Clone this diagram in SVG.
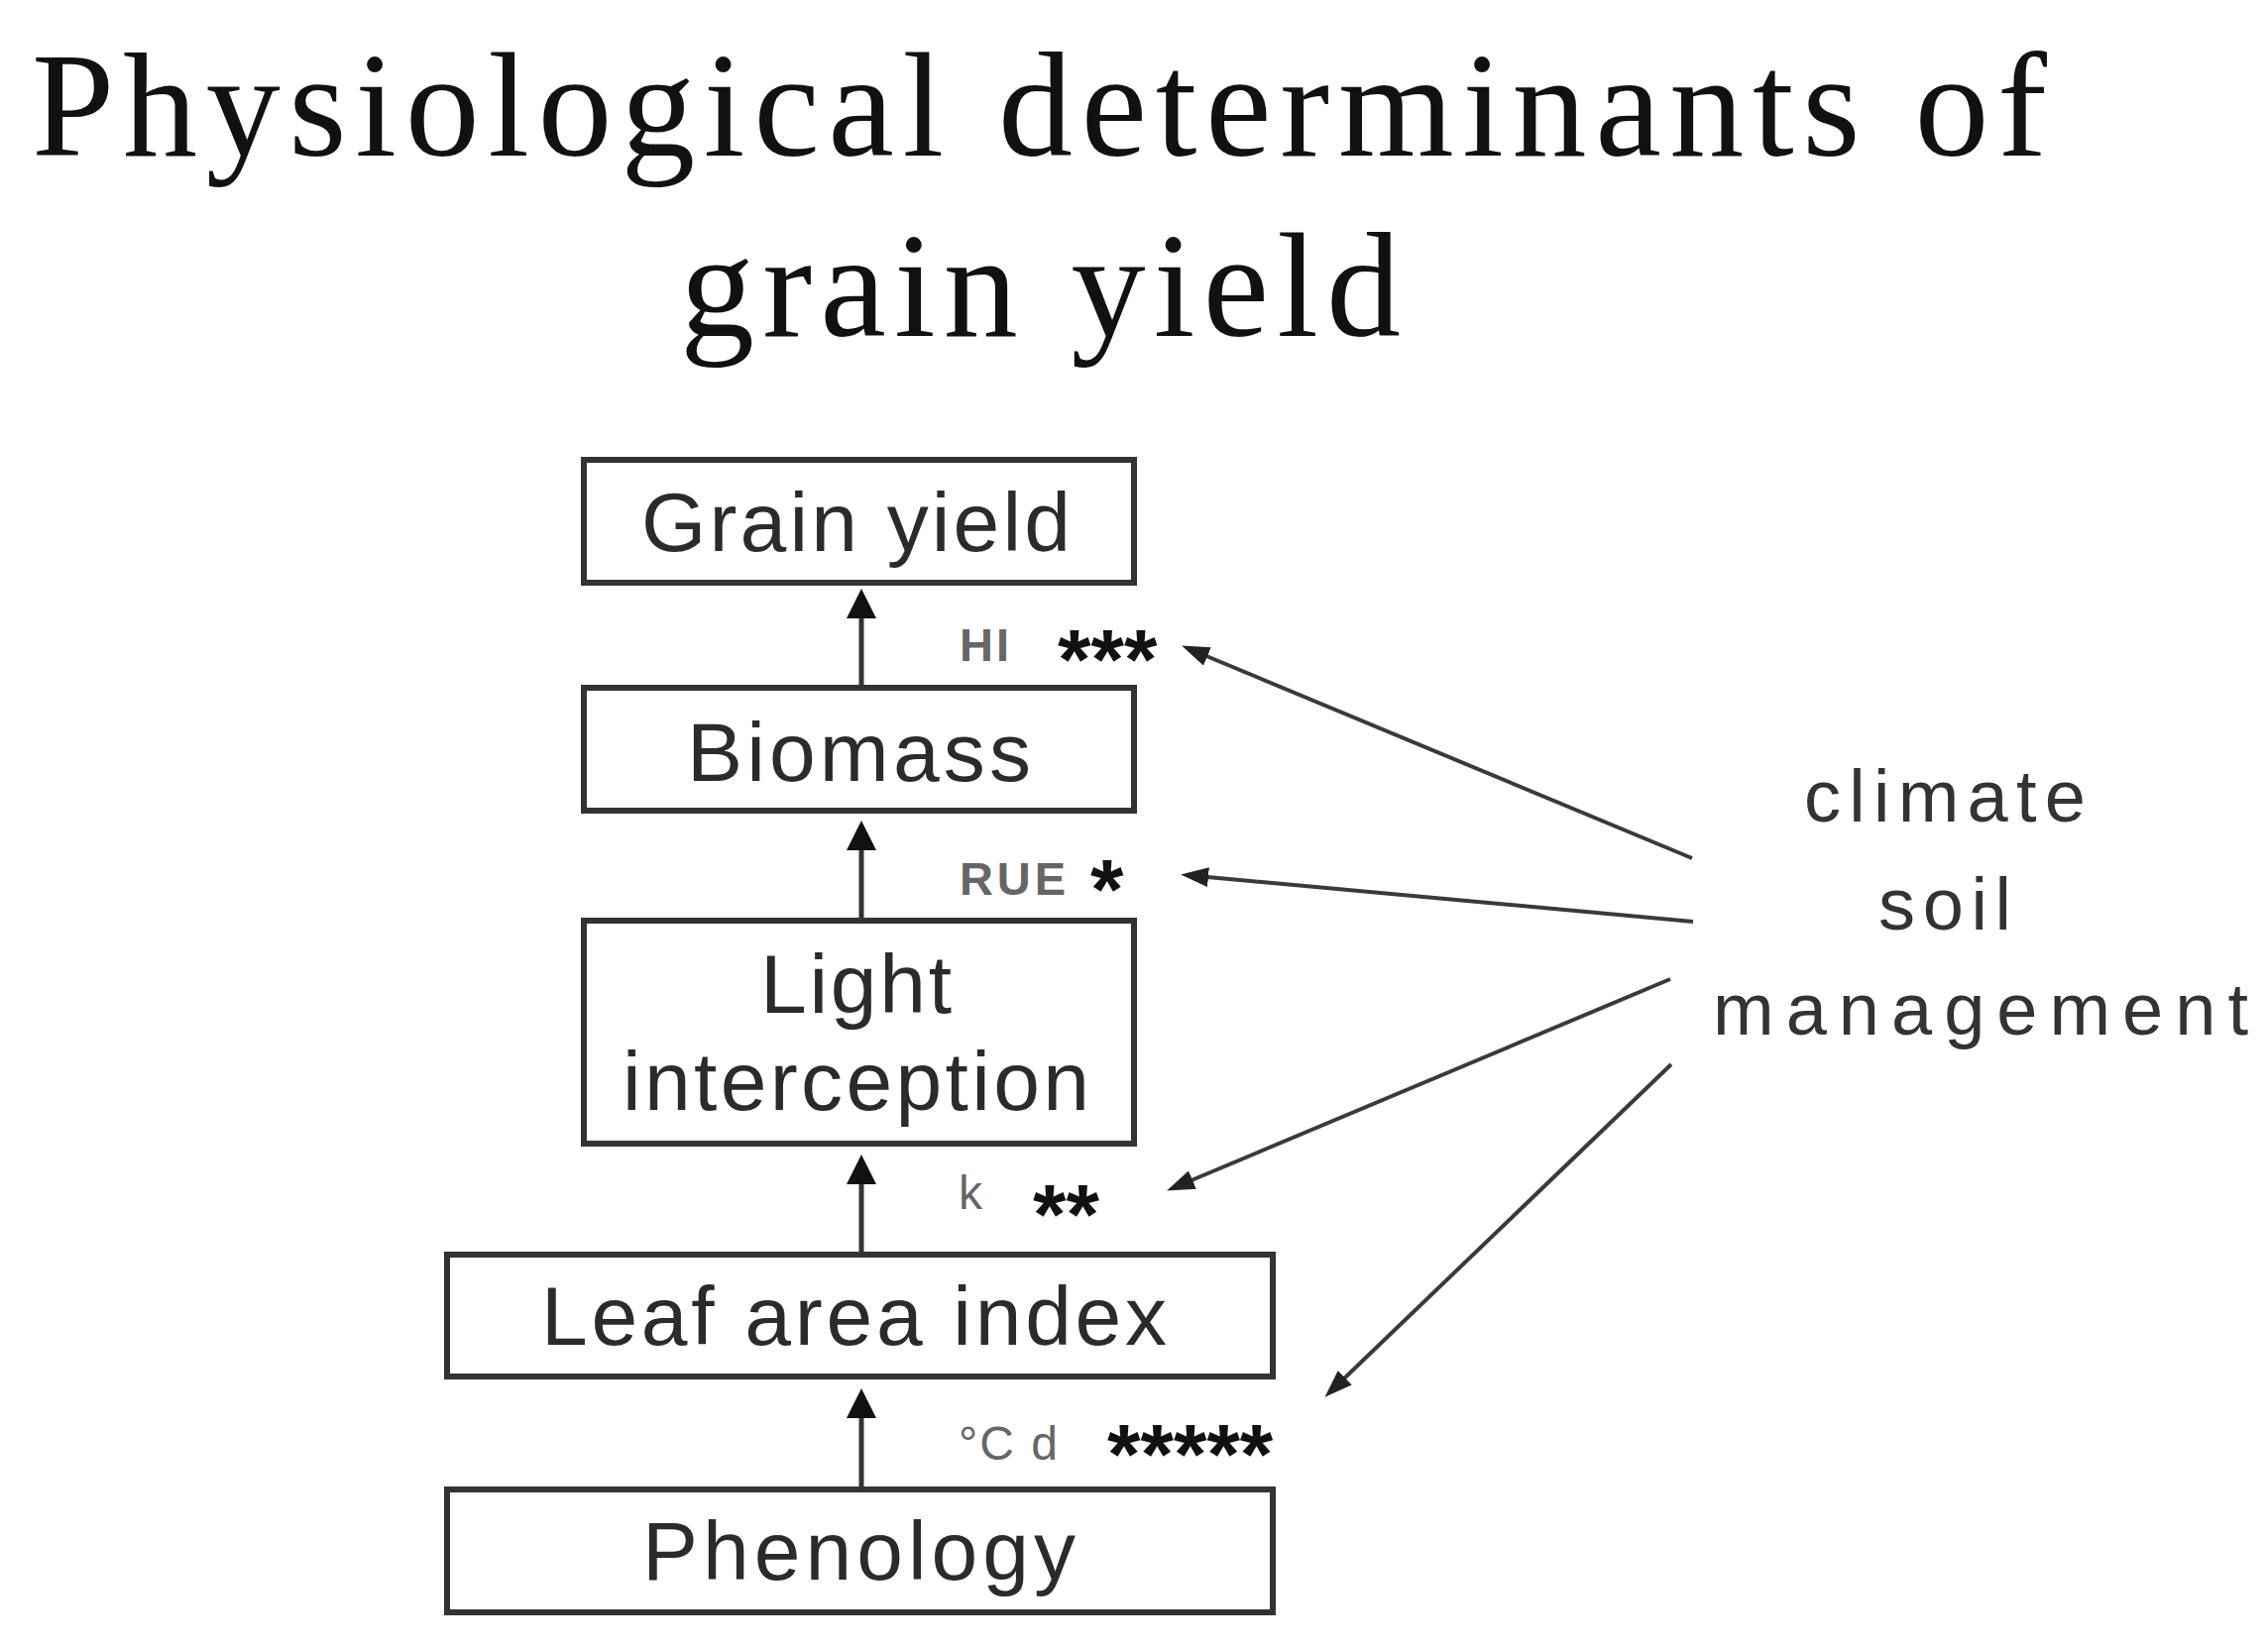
<svg xmlns="http://www.w3.org/2000/svg" width="2288" height="1666" viewBox="0 0 2288 1666">
<style>
.title{font-family:"Liberation Serif","Times New Roman",serif;font-size:150px;fill:#111}
.box{fill:#fff;stroke:#333;stroke-width:6}
.lbl{font-family:"Liberation Sans",Arial,sans-serif;font-size:84px;fill:#2b2b2b}
.side{font-family:"Liberation Sans",Arial,sans-serif;font-size:74px;fill:#333}
.sm{font-family:"Liberation Sans",Arial,sans-serif;font-size:47px;fill:#666;font-weight:bold}
.smt{font-family:"Liberation Sans",Arial,sans-serif;font-size:48px;fill:#666}
.ast{font-family:"Liberation Sans",Arial,sans-serif;font-size:86px;font-weight:bold;fill:#111}
.up{stroke:#333;stroke-width:5;fill:none}
.diag{stroke:#3a3a3a;stroke-width:4;fill:none}
</style>
<defs>
<marker id="big" markerUnits="userSpaceOnUse" viewBox="0 0 30 30" markerWidth="30" markerHeight="30" refX="1" refY="15" orient="auto">
<path d="M0,0 L30,15 L0,30 z" fill="#111"/>
</marker>
<marker id="small" markerUnits="userSpaceOnUse" viewBox="0 0 28 20" markerWidth="28" markerHeight="20" refX="1" refY="10" orient="auto">
<path d="M0,0 L28,10 L0,20 z" fill="#222"/>
</marker>
</defs>
<rect width="2288" height="1666" fill="#fff"/>
<g id="title">
<text class="title" x="32" y="157" textLength="2033" lengthAdjust="spacing">Physiological determinants of</text>
<text class="title" x="686" y="339" textLength="727" lengthAdjust="spacing">grain yield</text>
</g>
<g id="grain-yield">
<rect class="box" x="589" y="464" width="555" height="124"/>
<text class="lbl" x="647" y="556" textLength="433" lengthAdjust="spacing">Grain yield</text>
</g>
<g id="biomass">
<rect class="box" x="589" y="694" width="555" height="124"/>
<text class="lbl" x="693" y="788" textLength="347" lengthAdjust="spacing">Biomass</text>
</g>
<g id="light-interception">
<rect class="box" x="589" y="929" width="555" height="225"/>
<text class="lbl" x="767" y="1022" textLength="193" lengthAdjust="spacing">Light</text>
<text class="lbl" x="628" y="1120" textLength="471" lengthAdjust="spacing">interception</text>
</g>
<g id="leaf-area-index">
<rect class="box" x="451" y="1266" width="833" height="123"/>
<text class="lbl" x="546" y="1357" textLength="631" lengthAdjust="spacing">Leaf area index</text>
</g>
<g id="phenology">
<rect class="box" x="451" y="1503" width="833" height="124"/>
<text class="lbl" x="648" y="1594" textLength="437" lengthAdjust="spacing">Phenology</text>
</g>
<g id="factors">
<text class="side" x="1820" y="829" textLength="284" lengthAdjust="spacing">climate</text>
<text class="side" x="1895" y="938" textLength="134" lengthAdjust="spacing">soil</text>
<text class="side" x="1728" y="1044" textLength="540" lengthAdjust="spacing">management</text>
</g>
<g id="labels">
<text class="sm" x="968" y="667" textLength="50" lengthAdjust="spacing">HI</text>
<text class="ast" x="1067" y="695">***</text>
<text class="sm" x="968" y="903" textLength="107" lengthAdjust="spacing">RUE</text>
<text class="ast" x="1100" y="927">*</text>
<text class="smt" x="967" y="1220" fill="#888">k</text>
<text class="ast" x="1042" y="1255">**</text>
<text class="smt" x="967" y="1473" textLength="100" lengthAdjust="spacing">°C d</text>
<text class="ast" x="1117" y="1497">*****</text>
</g>
<g id="connectors">
<line class="up" x1="869" y1="694" x2="869" y2="623" marker-end="url(#big)"/>
<line class="up" x1="869" y1="929" x2="869" y2="857" marker-end="url(#big)"/>
<line class="up" x1="869" y1="1266" x2="869" y2="1194" marker-end="url(#big)"/>
<line class="up" x1="869" y1="1503" x2="869" y2="1430" marker-end="url(#big)"/>
<line class="diag" x1="1707" y1="866" x2="1217" y2="662" marker-end="url(#small)"/>
<line class="diag" x1="1708" y1="930" x2="1218" y2="885" stroke-width="6" marker-end="url(#small)"/>
<line class="diag" x1="1685" y1="988" x2="1202" y2="1191" marker-end="url(#small)"/>
<line class="diag" x1="1686" y1="1074" x2="1356" y2="1391" marker-end="url(#small)"/>
</g>
</svg>
